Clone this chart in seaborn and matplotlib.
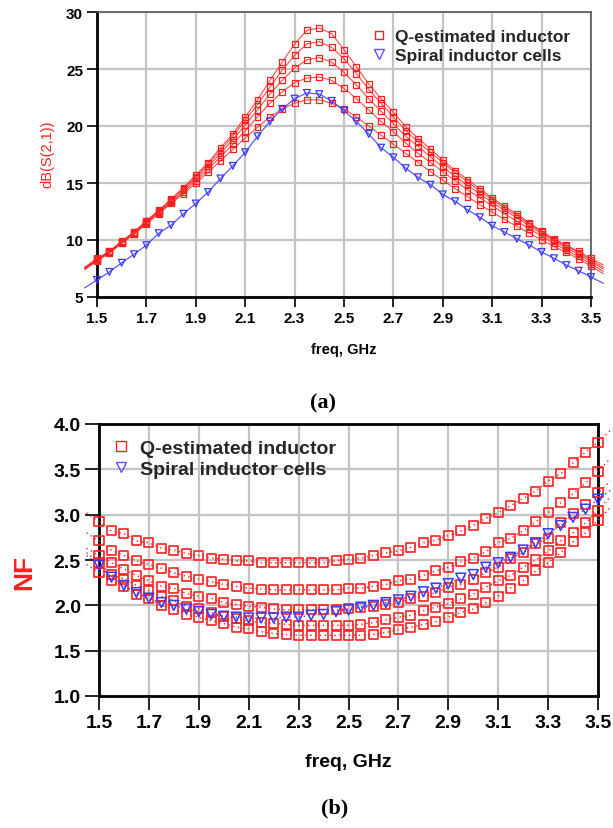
import numpy as np
import pandas as pd
import matplotlib
matplotlib.use("Agg")
import matplotlib.pyplot as plt
import seaborn as sns

# ---------------- data ----------------
# line grid: 1.45 .. 3.55 GHz step 0.05 (markers only on 1.50 .. 3.50)
freq = [round(1.45 + 0.05 * i, 2) for i in range(43)]

# (a) dB(S(2,1)) -- five Q-estimated inductor curves + spiral inductor cells
s21_q1 = [7.6, 8.4, 9.0, 9.9, 10.7, 11.7, 12.6, 13.6, 14.6, 15.7, 16.8, 18.1, 19.3, 20.8, 22.3,
          24.0, 25.6, 27.2, 28.4, 28.6, 28.1, 26.7, 25.2, 23.7, 22.4, 21.2, 19.95, 18.9, 18.0,
          17.0, 16.1, 15.3, 14.5, 13.7, 12.95, 12.3, 11.5, 10.8, 10.1, 9.55, 9.0, 8.4, 7.8]
s21_q2 = [7.55, 8.3, 9.0, 9.85, 10.7, 11.65, 12.55, 13.5, 14.5, 15.55, 16.65, 17.85, 19.1, 20.5, 21.9,
          23.4, 24.9, 26.2, 27.2, 27.4, 26.9, 25.9, 24.6, 23.2, 22.0, 20.8, 19.6, 18.6, 17.7,
          16.8, 15.9, 15.1, 14.3, 13.55, 12.8, 12.15, 11.4, 10.7, 10.0, 9.45, 8.9, 8.25, 7.6]
s21_q3 = [7.5, 8.25, 8.95, 9.8, 10.6, 11.55, 12.45, 13.4, 14.35, 15.4, 16.45, 17.6, 18.8, 20.1, 21.4,
          22.8, 24.0, 25.1, 25.8, 26.0, 25.6, 24.7, 23.6, 22.4, 21.3, 20.2, 19.1, 18.2, 17.3,
          16.4, 15.6, 14.8, 14.05, 13.3, 12.6, 11.95, 11.25, 10.55, 9.9, 9.3, 8.75, 8.1, 7.45]
s21_q4 = [7.45, 8.2, 8.9, 9.75, 10.55, 11.5, 12.4, 13.3, 14.2, 15.2, 16.2, 17.3, 18.4, 19.6, 20.8,
          22.0, 23.0, 23.8, 24.2, 24.3, 24.0, 23.3, 22.4, 21.4, 20.4, 19.5, 18.5, 17.6, 16.8,
          16.0, 15.2, 14.4, 13.7, 13.0, 12.3, 11.65, 11.0, 10.35, 9.7, 9.1, 8.55, 7.9, 7.25]
s21_q5 = [7.4, 8.15, 8.85, 9.7, 10.5, 11.4, 12.3, 13.2, 14.05, 15.0, 15.95, 16.95, 17.95, 18.95, 19.9,
          20.8, 21.5, 22.0, 22.3, 22.3, 22.0, 21.5, 20.8, 20.0, 19.2, 18.4, 17.6, 16.8, 16.0,
          15.25, 14.5, 13.8, 13.1, 12.45, 11.8, 11.2, 10.6, 10.0, 9.45, 8.9, 8.35, 7.7, 7.05]
s21_spiral = [5.8, 6.5, 7.2, 8.0, 8.75, 9.55, 10.6, 11.3, 12.3, 13.2, 14.2, 15.4, 16.5, 17.7, 19.1,
              20.4, 21.5, 22.4, 22.9, 22.8, 22.2, 21.35, 20.4, 19.3, 18.1, 17.25, 16.3, 15.5, 14.85,
              14.0, 13.4, 12.65, 12.0, 11.25, 10.7, 10.1, 9.55, 8.95, 8.4, 7.8, 7.3, 6.75, 6.2]

# (b) NF
nf_q1 = [3.02, 2.92, 2.82, 2.79, 2.71, 2.69, 2.63, 2.61, 2.57, 2.55, 2.52, 2.51, 2.49, 2.49, 2.47,
         2.47, 2.47, 2.47, 2.47, 2.47, 2.49, 2.51, 2.52, 2.55, 2.58, 2.60, 2.64, 2.69, 2.72,
         2.77, 2.82, 2.88, 2.96, 3.02, 3.10, 3.18, 3.26, 3.37, 3.45, 3.57, 3.69, 3.80, 3.93]
nf_q2 = [2.80, 2.71, 2.61, 2.55, 2.49, 2.45, 2.41, 2.36, 2.32, 2.29, 2.26, 2.23, 2.21, 2.19, 2.18,
         2.17, 2.17, 2.17, 2.17, 2.17, 2.17, 2.19, 2.19, 2.21, 2.23, 2.27, 2.29, 2.33, 2.38,
         2.42, 2.48, 2.52, 2.59, 2.69, 2.74, 2.82, 2.92, 3.02, 3.13, 3.23, 3.35, 3.48, 3.62]
nf_q3 = [2.63, 2.55, 2.47, 2.40, 2.33, 2.27, 2.21, 2.19, 2.13, 2.10, 2.08, 2.03, 2.01, 1.99, 1.98,
         1.96, 1.95, 1.95, 1.95, 1.95, 1.95, 1.96, 1.98, 1.99, 2.01, 2.03, 2.07, 2.10, 2.14,
         2.20, 2.23, 2.29, 2.36, 2.42, 2.52, 2.58, 2.68, 2.74, 2.91, 3.01, 3.11, 3.24, 3.37]
nf_q4 = [2.58, 2.47, 2.34, 2.29, 2.22, 2.16, 2.10, 2.05, 1.99, 1.96, 1.92, 1.88, 1.85, 1.83, 1.81,
         1.80, 1.79, 1.78, 1.78, 1.78, 1.78, 1.78, 1.79, 1.81, 1.84, 1.87, 1.89, 1.94, 1.98,
         2.02, 2.07, 2.12, 2.20, 2.27, 2.33, 2.42, 2.50, 2.60, 2.71, 2.80, 2.91, 3.05, 3.20]
nf_q5 = [2.45, 2.36, 2.27, 2.21, 2.12, 2.07, 2.00, 1.95, 1.90, 1.87, 1.83, 1.80, 1.76, 1.74, 1.71,
         1.69, 1.68, 1.67, 1.67, 1.67, 1.67, 1.67, 1.67, 1.68, 1.70, 1.73, 1.76, 1.79, 1.82,
         1.87, 1.92, 1.96, 2.03, 2.10, 2.19, 2.27, 2.38, 2.47, 2.58, 2.70, 2.80, 2.94, 3.08]
nf_spiral = [2.55, 2.44, 2.31, 2.22, 2.14, 2.08, 2.03, 2.00, 1.96, 1.93, 1.90, 1.88, 1.87, 1.86, 1.86,
             1.86, 1.87, 1.87, 1.89, 1.90, 1.93, 1.95, 1.98, 2.00, 2.03, 2.06, 2.10, 2.15, 2.19,
             2.24, 2.30, 2.34, 2.42, 2.47, 2.53, 2.61, 2.69, 2.79, 2.88, 2.97, 3.06, 3.17, 3.27]

xticks = [1.5, 1.7, 1.9, 2.1, 2.3, 2.5, 2.7, 2.9, 3.1, 3.3, 3.5]
yticks_a = [5, 10, 15, 20, 25, 30]
yticks_b = [1.0, 1.5, 2.0, 2.5, 3.0, 3.5, 4.0]
legend_labels = ["Q-estimated inductor", "Spiral inductor cells"]

# ---------------- style ----------------
sns.set_theme(style="white")
plt.rcParams["font.family"] = ["Liberation Sans Narrow", "Liberation Sans", "DejaVu Sans"]

W, H = 613, 829
fig = plt.figure(figsize=(W / 100, H / 100), dpi=100)

RED = "#ff2020"
BLUE = "#3a3aff"


def frame(px_left, px_top, px_right, px_bottom):
    return [px_left / W, 1 - px_bottom / H, (px_right - px_left) / W, (px_bottom - px_top) / H]


def long_df(curves, label):
    rows = []
    for k, c in enumerate(curves):
        for f, v in zip(freq, c):
            rows.append({"freq": f, "val": v, "curve": f"{label}{k}", "kind": label})
    return pd.DataFrame(rows)


def style_axes(ax, yt, ylim, tick_fs, tick_len, thick_all):
    ax.set_xlim(1.5, 3.5)
    ax.set_ylim(*ylim)
    ax.set_xticks(xticks)
    ax.set_xticklabels([f"{t:g}" for t in xticks])
    ax.set_yticks(yt)
    ax.set_yticklabels([f"{t:.1f}" if isinstance(t, float) else f"{t}" for t in yt])
    ax.grid(True, color="#c4c4c4", linewidth=1.6)
    ax.set_axisbelow(True)
    ax.tick_params(axis="both", direction="out", length=tick_len, width=1.2, color="black",
                   labelsize=tick_fs, pad=3, bottom=True, left=True)
    for lab in ax.get_xticklabels() + ax.get_yticklabels():
        lab.set_fontweight("bold")
        lab.set_color("black")
    for s in ["left", "bottom"]:
        ax.spines[s].set_color("black")
        ax.spines[s].set_linewidth(2.0)
    for s in ["top", "right"]:
        ax.spines[s].set_color("black" if thick_all else "#555555")
        ax.spines[s].set_linewidth(2.0 if thick_all else 1.2)
    ax.set_xlabel("")
    ax.set_ylabel("")


# ---------------- (a) ----------------
ax1 = fig.add_axes(frame(97, 13, 591, 298))
dfa_q = long_df([s21_q1, s21_q2, s21_q3, s21_q4, s21_q5], "q")
dfa_s = long_df([s21_spiral], "s")
sns.lineplot(data=dfa_q, x="freq", y="val", units="curve", estimator=None, color=RED,
             linewidth=0.8, alpha=0.8, ax=ax1, clip_on=False, zorder=3)
sns.lineplot(data=dfa_s, x="freq", y="val", units="curve", estimator=None, color=BLUE,
             linewidth=0.9, alpha=0.85, ax=ax1, clip_on=False, zorder=3)
mq = dfa_q[(dfa_q.freq >= 1.5) & (dfa_q.freq <= 3.5)]
ms = dfa_s[(dfa_s.freq >= 1.5) & (dfa_s.freq <= 3.5)]
sns.scatterplot(data=mq, x="freq", y="val", marker="s", s=18, facecolor="none",
                edgecolor=RED, linewidth=0.9, ax=ax1, clip_on=False, zorder=4)
sns.scatterplot(data=ms, x="freq", y="val", marker="v", s=24, facecolor="none",
                edgecolor=BLUE, linewidth=0.9, ax=ax1, clip_on=False, zorder=4)
style_axes(ax1, yticks_a, (5, 30), 11, 7, False)

h1 = [plt.Line2D([], [], ls="none", marker="s", ms=5.5, mfc="none", mec=RED, mew=1.0),
      plt.Line2D([], [], ls="none", marker="v", ms=6.5, mfc="none", mec="#6a4cff", mew=1.0)]
ax1.legend(h1, legend_labels, loc="upper left", bbox_to_anchor=((372 - 97) / 494, 1 - 17 / 285),
           frameon=False, handlelength=0.8, handletextpad=0.55, labelspacing=0.2,
           prop={"weight": "bold", "size": 12.5}, borderpad=0, borderaxespad=0)

fig.text(47 / W, 1 - 154 / H, "dB(S(2,1))", rotation=90, color=RED, fontsize=10.5,
         ha="center", va="center", family=["Liberation Sans", "DejaVu Sans"])
fig.text(344 / W, 1 - 350 / H, "freq, GHz", color="black", fontsize=10.5, fontweight="bold",
         ha="center", va="center")
fig.text(323 / W, 1 - 403 / H, "(a)", color="black", fontsize=16, fontweight="bold",
         ha="center", va="center", family=["Liberation Serif", "DejaVu Serif"])

# ---------------- (b) ----------------
ax2 = fig.add_axes(frame(99, 425, 598, 697))
dfb_q = long_df([nf_q1, nf_q2, nf_q3, nf_q4, nf_q5], "q")
dfb_s = long_df([nf_spiral], "s")
sns.lineplot(data=dfb_q, x="freq", y="val", units="curve", estimator=None, color=RED,
             linewidth=1.0, linestyle=(0, (1, 2.5)), ax=ax2, clip_on=False, zorder=3)
sns.lineplot(data=dfb_s, x="freq", y="val", units="curve", estimator=None, color=BLUE,
             linewidth=1.0, linestyle=(0, (1, 2.5)), ax=ax2, clip_on=False, zorder=3)
mq2 = dfb_q[(dfb_q.freq >= 1.5) & (dfb_q.freq <= 3.5)]
ms2 = dfb_s[(dfb_s.freq >= 1.5) & (dfb_s.freq <= 3.5)]
sns.scatterplot(data=mq2, x="freq", y="val", marker="s", s=42, facecolor="none",
                edgecolor=RED, linewidth=1.2, ax=ax2, clip_on=False, zorder=4)
sns.scatterplot(data=ms2, x="freq", y="val", marker="v", s=50, facecolor="none",
                edgecolor=BLUE, linewidth=1.1, ax=ax2, clip_on=False, zorder=4)
style_axes(ax2, yticks_b, (1.0, 4.0), 14, 10, True)

h2 = [plt.Line2D([], [], ls="none", marker="s", ms=6.5, mfc="none", mec=RED, mew=1.0),
      plt.Line2D([], [], ls="none", marker="v", ms=7.5, mfc="none", mec="#6a4cff", mew=1.0)]
ax2.legend(h2, legend_labels, loc="upper left", bbox_to_anchor=((113 - 99) / 499, 1 - 15 / 272),
           frameon=False, handlelength=0.8, handletextpad=0.6, labelspacing=0.2,
           prop={"weight": "bold", "size": 14}, borderpad=0, borderaxespad=0)

fig.text(24 / W, 1 - 572 / H, "NF", rotation=90, color=RED, fontsize=19, fontweight="bold",
         ha="center", va="center")
fig.text(348 / W, 1 - 763 / H, "freq, GHz", color="black", fontsize=14, fontweight="bold",
         ha="center", va="center")
fig.text(335 / W, 1 - 808 / H, "(b)", color="black", fontsize=16, fontweight="bold",
         ha="center", va="center", family=["Liberation Serif", "DejaVu Serif"])

fig.savefig("out.png", dpi=100, facecolor="white")
